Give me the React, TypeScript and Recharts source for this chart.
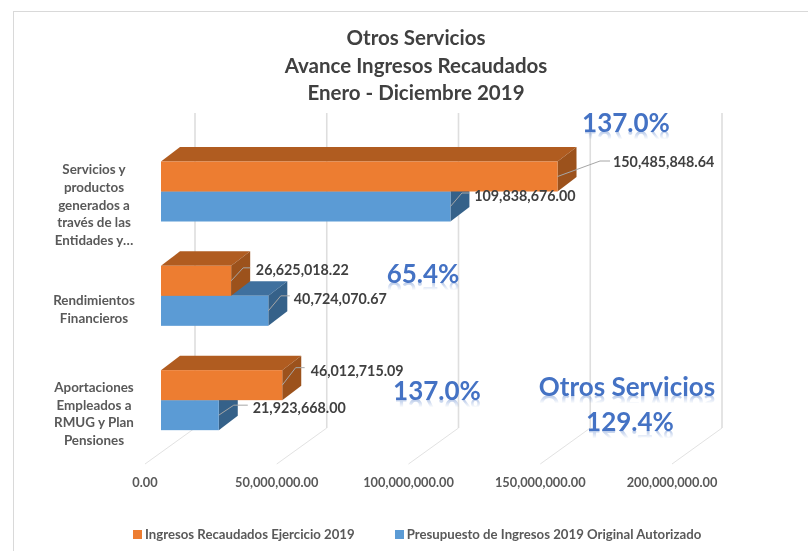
import { BarChart, Bar, XAxis, YAxis, CartesianGrid, Legend, LabelList } from 'recharts';

const FONT = 'Lato, sans-serif';

const categories = [
  'Servicios y\nproductos\ngenerados a\ntravés de las\nEntidades y…',
  'Rendimientos\nFinancieros',
  'Aportaciones\nEmpleados a\nRMUG y Plan\nPensiones',
];
const ingresosRecaudados = [150485848.64, 26625018.22, 46012715.09];
const presupuesto = [109838676.0, 40724070.67, 21923668.0];
const xTicks = [0, 50000000, 100000000, 150000000, 200000000];
const titleLines = ['Otros Servicios', 'Avance Ingresos Recaudados', 'Enero - Diciembre 2019'];

const chartData = categories.map((name, i) => ({
  name,
  recaudado: ingresosRecaudados[i],
  presupuesto: presupuesto[i],
}));

const money = (v: number) =>
  v.toLocaleString('en-US', { minimumFractionDigits: 2, maximumFractionDigits: 2 });

// where the bars sit inside the fake 3D box
const BAR_SHIFT = { x: 16, y: -11.5 };
const BAR_DEPTH = { x: 19, y: -14.5 };
const WALL = { x: 50, y: -36 };

const ORANGE = { front: '#ED7D31', top: '#B05C20', side: '#9C521C' };
const BLUE = { front: '#5B9BD5', top: '#3F709E', side: '#356189' };

// leader line and label position per bar, relative to middle of the bar's right end
const orangeLeaders = [
  { ex: 42.5, ey: -15.5, end: 52.5, tx: 55.5, ty: -15 },
  { ex: 12, ey: -13, end: 19, tx: 24.7, ty: -11 },
  { ex: 13.4, ey: -17.5, end: 22.4, tx: 28.4, ty: -14.8 },
];
const blueLeaders = [
  { ex: 11.5, ey: -13.5, end: 18.5, tx: 23.8, ty: -10.8 },
  { ex: 12.5, ey: -15, end: 21.5, tx: 25.5, ty: -12 },
  { ex: 15, ey: -10, end: 29, tx: 34, ty: -8 },
];

const pts = (list: number[][]) => list.map((p) => p.join(',')).join(' ');

// blue is declared first so it paints under orange, the slot is swapped here
function Box3D({ x, y, width, height, colors, slot }: any) {
  const left = x + BAR_SHIFT.x;
  const right = left + width;
  const top = y + BAR_SHIFT.y + slot * height;
  const bottom = top + height;
  const dx = BAR_DEPTH.x;
  const dy = BAR_DEPTH.y;
  return (
    <g>
      <polygon
        points={pts([[left, top], [right, top], [right + dx, top + dy], [left + dx, top + dy]])}
        fill={colors.top}
      />
      <polygon
        points={pts([[right, top], [right + dx, top + dy], [right + dx, bottom + dy], [right, bottom]])}
        fill={colors.side}
      />
      <rect x={left} y={top} width={width} height={height} fill={colors.front} />
    </g>
  );
}

function BarLabel({ x, y, width, height, value, index, leaders, slot }: any) {
  const right = x + BAR_SHIFT.x + width;
  const mid = y + BAR_SHIFT.y + slot * height + height / 2;
  const l = leaders[index];
  return (
    <g>
      <polyline
        points={pts([[right, mid], [right + l.ex, mid + l.ey], [right + l.end, mid + l.ey]])}
        fill="none"
        stroke="#A6A6A6"
        strokeWidth={1}
      />
      <text
        x={right + l.tx}
        y={mid + l.ty}
        dominantBaseline="central"
        fontFamily={FONT}
        fontWeight={700}
        fontSize={14.3}
        fill="#404040"
      >
        {money(value)}
      </text>
    </g>
  );
}

// grid line runs along the floor then up the back wall
function GridLine({ x1, y1, y2 }: any) {
  return (
    <g>
      <line x1={x1} y1={y2} x2={x1 + WALL.x} y2={y2 + WALL.y} stroke="#E2E2E2" strokeWidth={1} />
      <line x1={x1 + WALL.x} y1={y2 + WALL.y} x2={x1 + WALL.x} y2={y1 + WALL.y - 2} stroke="#DEDEDE" strokeWidth={1.6} />
    </g>
  );
}

function CategoryTick({ x, y, payload }: any) {
  const lines = String(payload.value).split('\n');
  const lineHeight = 17.6;
  const start = y + 1.5 - ((lines.length - 1) * lineHeight) / 2;
  return (
    <text textAnchor="middle" fontFamily={FONT} fontWeight={700} fontSize={13.4} fill="#595959">
      {lines.map((line, i) => (
        <tspan key={i} x={x - 43} y={start + i * lineHeight} dominantBaseline="central">
          {line}
        </tspan>
      ))}
    </text>
  );
}

function LegendRow({ payload }: any) {
  return (
    <div style={{ display: 'flex', fontFamily: FONT, fontWeight: 700, fontSize: 13.2, color: '#595959' }}>
      {(payload || []).map((item: any) => (
        <div key={item.value} style={{ display: 'flex', alignItems: 'center', marginRight: 40, whiteSpace: 'nowrap' }}>
          <span style={{ width: 9, height: 9, background: item.color, marginRight: 3 }} />
          {item.value}
        </div>
      ))}
    </div>
  );
}

function Callout({ text, cx, cy }: { text: string; cx: number; cy: number }) {
  return (
    <div
      style={{
        position: 'absolute',
        left: cx - 150,
        top: cy - 16,
        width: 300,
        height: 32,
        lineHeight: '32px',
        textAlign: 'center',
        fontFamily: FONT,
        fontWeight: 700,
        fontSize: 26,
        color: '#4472C4',
        WebkitBoxReflect: 'below -13px linear-gradient(transparent 55%, rgba(255,255,255,0.7))',
      } as any}
    >
      {text}
    </div>
  );
}

export default function App() {
  return (
    <div style={{ position: 'absolute', left: 0, top: 0, width: 808, height: 551, overflow: 'hidden', background: '#fff', filter: 'blur(0.5px)' }}>
      <div
        style={{
          position: 'absolute',
          left: 13,
          top: 11,
          width: 800,
          height: 600,
          border: '1.5px solid #D9D9D9',
        }}
      />
      <BarChart
        width={808}
        height={551}
        data={chartData}
        layout="vertical"
        barSize={30}
        barGap={0}
        margin={{ top: 151, right: 136, bottom: 41, left: 0 }}
        style={{ position: 'absolute', left: 0, top: 0 }}
      >
        <CartesianGrid horizontal={false} vertical={(props: any) => <GridLine key={props.key} {...props} />} />
        <XAxis
          type="number"
          domain={[0, 200000000]}
          ticks={xTicks}
          height={30}
          axisLine={false}
          tickLine={false}
          tickMargin={8}
          interval={0}
          tickFormatter={money}
          tick={{ fontFamily: FONT, fontWeight: 700, fontSize: 12.8, fill: '#595959' }}
        />
        <YAxis
          type="category"
          dataKey="name"
          width={145}
          axisLine={false}
          tickLine={false}
          interval={0}
          tick={<CategoryTick />}
        />
        <Legend
          content={<LegendRow />}
          itemSorter="value"
          wrapperStyle={{ left: 133, top: 526, width: 640, bottom: 'auto' }}
        />
        <Bar
          dataKey="presupuesto"
          name="Presupuesto de Ingresos 2019 Original Autorizado"
          fill={BLUE.front}
          isAnimationActive={false}
          shape={(props: any) => <Box3D {...props} colors={BLUE} slot={1} />}
        >
          <LabelList dataKey="presupuesto" content={(props: any) => <BarLabel {...props} leaders={blueLeaders} slot={1} />} />
        </Bar>
        <Bar
          dataKey="recaudado"
          name="Ingresos Recaudados Ejercicio 2019"
          fill={ORANGE.front}
          isAnimationActive={false}
          shape={(props: any) => <Box3D {...props} colors={ORANGE} slot={-1} />}
        >
          <LabelList dataKey="recaudado" content={(props: any) => <BarLabel {...props} leaders={orangeLeaders} slot={-1} />} />
        </Bar>
      </BarChart>
      <div
        style={{
          position: 'absolute',
          left: 16,
          top: 24,
          width: 800,
          textAlign: 'center',
          fontFamily: FONT,
          fontWeight: 700,
          fontSize: 20.5,
          lineHeight: '27.5px',
          color: '#404040',
        }}
      >
        {titleLines.map((line) => (
          <div key={line}>{line}</div>
        ))}
      </div>
      <Callout text="137.0%" cx={626} cy={122} />
      <Callout text="65.4%" cx={423} cy={273} />
      <Callout text="137.0%" cx={437} cy={390} />
      <Callout text="Otros Servicios" cx={627} cy={386} />
      <Callout text="129.4%" cx={630} cy={421} />
    </div>
  );
}
